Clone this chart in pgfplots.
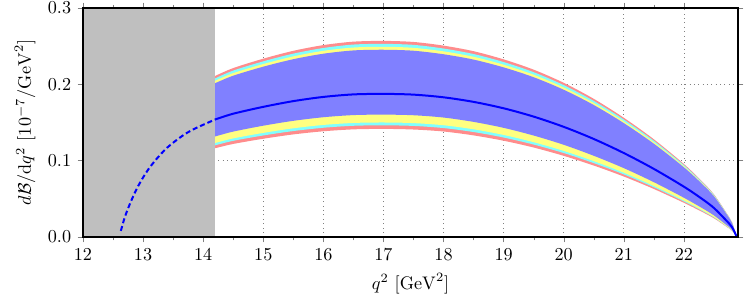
\documentclass[border=0pt]{standalone}
\usepackage{pgfplots}
\pgfplotsset{compat=1.18}
\usepackage{pgfplotstable}
\usepgfplotslibrary{fillbetween}
\definecolor{bpink}{RGB}{255,140,140}
\definecolor{bcyan}{RGB}{128,255,255}
\definecolor{byellow}{RGB}{255,255,128}
\definecolor{bblue}{RGB}{128,128,255}
\pgfplotstableread{
x c pu cu yu bu bl yl cl pl
14.2 0.1540 0.2110 0.2078 0.2047 0.2015 0.1317 0.1232 0.1201 0.1163
14.5 0.1615 0.2213 0.2180 0.2147 0.2113 0.1381 0.1292 0.1260 0.1219
15.0 0.1705 0.2336 0.2301 0.2266 0.2231 0.1458 0.1364 0.1330 0.1287
15.5 0.1780 0.2439 0.2402 0.2366 0.2329 0.1522 0.1424 0.1388 0.1344
16.0 0.1835 0.2514 0.2476 0.2439 0.2401 0.1569 0.1468 0.1431 0.1385
16.5 0.1868 0.2559 0.2521 0.2482 0.2444 0.1597 0.1494 0.1457 0.1410
17.0 0.1875 0.2569 0.2530 0.2492 0.2453 0.1603 0.1500 0.1463 0.1416
17.5 0.1865 0.2555 0.2517 0.2478 0.2440 0.1595 0.1492 0.1455 0.1408
18.0 0.1830 0.2507 0.2469 0.2432 0.2394 0.1565 0.1464 0.1427 0.1382
18.5 0.1770 0.2434 0.2397 0.2361 0.2324 0.1508 0.1411 0.1375 0.1331
19.0 0.1686 0.2327 0.2292 0.2257 0.2222 0.1430 0.1337 0.1303 0.1261
19.5 0.1577 0.2192 0.2159 0.2126 0.2093 0.1329 0.1242 0.1211 0.1172
20.0 0.1443 0.2020 0.1990 0.1959 0.1929 0.1208 0.1128 0.1100 0.1063
20.5 0.1284 0.1810 0.1783 0.1756 0.1729 0.1064 0.0994 0.0968 0.0936
21.0 0.1100 0.1562 0.1539 0.1515 0.1492 0.0902 0.0842 0.0820 0.0792
21.5 0.0892 0.1280 0.1261 0.1242 0.1222 0.0718 0.0669 0.0651 0.0629
22.0 0.0659 0.0956 0.0942 0.0927 0.0913 0.0514 0.0478 0.0465 0.0448
22.3 0.0500 0.0730 0.0719 0.0708 0.0697 0.0380 0.0353 0.0343 0.0330
22.5 0.0380 0.0559 0.0551 0.0542 0.0534 0.0283 0.0262 0.0255 0.0245
22.7 0.0220 0.0326 0.0321 0.0316 0.0311 0.0161 0.0148 0.0144 0.0139
22.8 0.0130 0.0194 0.0191 0.0188 0.0185 0.0094 0.0087 0.0084 0.0081
22.88 0.0 0.0 0.0 0.0 0.0 0.0 0.0 0.0 0.0
}\band
\pgfplotstableread{
x c
12.63 0.008
12.70 0.027
12.80 0.047
12.90 0.064
13.00 0.078
13.10 0.090
13.20 0.100
13.30 0.109
13.40 0.117
13.50 0.1235
13.60 0.1295
13.70 0.135
13.80 0.1395
13.90 0.1435
14.00 0.147
14.10 0.1505
14.20 0.154
}\dashedcurve
\pgfplotsset{
  layers/mylayers/.define layer set={axis background,axis grid,pre main,main,axis ticks,axis lines,axis tick labels,axis descriptions,axis foreground}{
    grid style={/pgfplots/on layer=axis grid},
    tick style={/pgfplots/on layer=axis ticks},
    axis line style={/pgfplots/on layer=axis lines},
    label style={/pgfplots/on layer=axis descriptions},
    legend style={/pgfplots/on layer=axis descriptions},
    title style={/pgfplots/on layer=axis descriptions},
    colorbar style={/pgfplots/on layer=axis descriptions},
    ticklabel style={/pgfplots/on layer=axis tick labels},
    axis background@ style={/pgfplots/on layer=axis background},
    3d box foreground style={/pgfplots/on layer=axis foreground},
  },
}
\begin{document}
\begin{tikzpicture}
\begin{axis}[
  set layers=mylayers,
  at={(0,0)}, anchor=south west,
  scale only axis, width=360.25pt, height=125.95pt,
  xmin=12, xmax=22.9, ymin=0, ymax=0.3,
  xtick={12,13,...,22}, minor x tick num=1,
  ytick={0,0.1,0.2,0.3},
  yticklabel style={/pgf/number format/.cd,fixed,fixed zerofill,precision=1},
  tick align=outside,
  major tick length=3pt, minor tick length=1.8pt,
  grid=major, major grid style={gray, dotted},
  axis line style={line width=0.6pt},
  xlabel={$q^2\ [\mathrm{GeV}^2]$},
  ylabel={$d\mathcal{B}/\mathrm{d}q^2\ [10^{-7}/\mathrm{GeV}^2]$},
]
\addplot[fill=gray!50, draw=none, forget plot] coordinates {(12,0.3) (14.2,0.3)} \closedcycle;
\addplot[draw=none, smooth, name path=pu, forget plot] table[x=x,y=pu]{\band};
\addplot[draw=none, smooth, name path=cu, forget plot] table[x=x,y=cu]{\band};
\addplot[draw=none, smooth, name path=yu, forget plot] table[x=x,y=yu]{\band};
\addplot[draw=none, smooth, name path=bu, forget plot] table[x=x,y=bu]{\band};
\addplot[draw=none, smooth, name path=bl, forget plot] table[x=x,y=bl]{\band};
\addplot[draw=none, smooth, name path=yl, forget plot] table[x=x,y=yl]{\band};
\addplot[draw=none, smooth, name path=cl, forget plot] table[x=x,y=cl]{\band};
\addplot[draw=none, smooth, name path=pl, forget plot] table[x=x,y=pl]{\band};
\addplot[fill=bpink, draw=none] fill between[of=pu and pl];
\addplot[fill=bcyan, draw=none] fill between[of=cu and cl];
\addplot[fill=byellow, draw=none] fill between[of=yu and yl];
\addplot[fill=bblue, draw=none] fill between[of=bu and bl];
\addplot[blue, smooth, line width=1.1pt] table[x=x,y=c]{\band};
\addplot[blue, smooth, line width=1.1pt, dash pattern=on 2.75pt off 1.65pt] table[x=x,y=c]{\dashedcurve};
\end{axis}
\pgfresetboundingbox
\path[use as bounding box] (-45.65pt,-35.2pt) rectangle (365.2pt,130.35pt);
\end{tikzpicture}
\end{document}
